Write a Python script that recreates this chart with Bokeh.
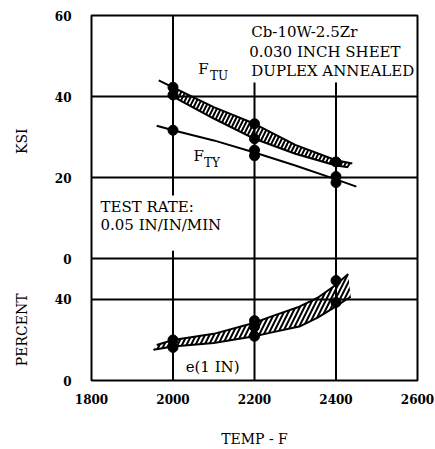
from bokeh.plotting import figure
from bokeh.models import Range1d, Label, FixedTicker, LinearAxis
from bokeh.embed import file_html
from bokeh.resources import INLINE

# ---- data: Cb-10W-2.5Zr, 0.030 inch sheet, duplex annealed ----
temp_ticks = [1800, 2000, 2200, 2400, 2600]
test_temps = [2000, 2200, 2400]

# ultimate tensile strength band (KSI)
ftu_upper_t = [1965, 2000, 2100, 2200, 2300, 2400, 2440]
ftu_upper_v = [44.0, 42.3, 37.4, 33.3, 28.1, 24.3, 23.5]
ftu_lower_t = [2000, 2100, 2200, 2300, 2400, 2430]
ftu_lower_v = [40.0, 34.6, 29.6, 25.9, 23.0, 22.6]
ftu_pts_t = [2000, 2000, 2200, 2200, 2400]
ftu_pts_v = [42.3, 40.4, 33.3, 29.6, 23.9]

# yield strength (KSI)
fty_t = [1960, 2000, 2100, 2200, 2300, 2400, 2450]
fty_v = [32.8, 31.7, 29.2, 26.2, 23.0, 19.6, 17.8]
fty_pts_t = [2000, 2200, 2200, 2400, 2400]
fty_pts_v = [31.7, 26.8, 25.4, 20.3, 18.8]

# elongation in 1 inch (percent)
el_upper_t = [1960, 2000, 2100, 2200, 2240, 2310, 2355, 2400, 2430]
el_upper_v = [17.5, 20.0, 23.0, 28.5, 31.5, 36.4, 40.8, 47.2, 52.5]
el_lower_t = [1952, 2000, 2100, 2200, 2240, 2310, 2355, 2400, 2436]
el_lower_v = [15.2, 16.8, 18.5, 21.8, 23.6, 26.6, 31.0, 36.6, 41.3]
el_pts_t = [2000, 2000, 2200, 2200, 2200, 2400, 2400]
el_pts_v = [20.0, 16.3, 29.5, 26.5, 21.8, 49.3, 38.5]

ksi_ticks = [0, 20, 40, 60]
pct_ticks = [0, 40]

FONT = "DejaVu Serif"
INK = "black"

# The strength panel occupies KSI 0..60; the elongation panel sits below it
# (percent 0..60 over half that height), sharing one frame and one x axis.
KSI_MIN, KSI_MAX = -30, 60
PCT_TOP = 60
pct_span = PCT_TOP * (KSI_MAX - KSI_MIN) / (0 - KSI_MIN)


def pct_to_ksi(v):
    return KSI_MIN + v * (0 - KSI_MIN) / PCT_TOP


p = figure(width=435, height=449, x_range=Range1d(1800, 2600),
           y_range=Range1d(KSI_MIN, KSI_MAX), toolbar_location=None,
           output_backend="svg", min_border_left=91, min_border_right=18,
           min_border_top=15, min_border_bottom=68)
p.extra_y_ranges = {"pct": Range1d(0, pct_span)}
p.background_fill_color = "white"
p.border_fill_color = "white"
p.outline_line_color = INK
p.outline_line_width = 2

# left axis: KSI ticks for the upper panel, percent ticks for the lower one
left_ticks = ksi_ticks + [pct_to_ksi(v) for v in pct_ticks]
p.yaxis.ticker = FixedTicker(ticks=left_ticks)
p.yaxis.major_label_overrides = {pct_to_ksi(v): str(v) for v in pct_ticks}
p.xaxis.ticker = FixedTicker(ticks=temp_ticks)
p.xaxis.axis_label = "TEMP - F"

# outer left axis carrying the two panel titles, one per panel
title_axis = LinearAxis(ticker=FixedTicker(ticks=[29.0, pct_to_ksi(25)]),
                        major_label_overrides={29.0: "KSI",
                                               pct_to_ksi(25): "PERCENT"},
                        major_label_orientation="vertical")
p.add_layout(title_axis, "left")

for ax in p.axis:
    ax.axis_line_color = None
    ax.major_tick_line_color = None
    ax.minor_tick_line_color = None
    ax.major_label_text_font = FONT
    ax.major_label_text_font_size = "12px"
    ax.major_label_text_font_style = "bold"
    ax.major_label_text_color = INK
    ax.axis_label_text_font = FONT
    ax.axis_label_text_font_size = "14px"
    ax.axis_label_text_font_style = "normal"
    ax.axis_label_text_color = INK
p.yaxis[0].major_label_standoff = 14
title_axis.major_label_text_font_size = "14px"
title_axis.major_label_text_font_style = "normal"
title_axis.major_label_standoff = 15
p.xaxis.major_label_standoff = 7
p.xaxis.axis_label_standoff = 24

# horizontal rules (20, 40 KSI; panel divider; 40 percent)
p.ygrid.ticker = FixedTicker(ticks=[20, 40, 0, pct_to_ksi(40)])
p.ygrid.grid_line_color = INK
p.ygrid.grid_line_width = 2
p.xgrid.visible = False
for g in p.ygrid[1:]:
    g.visible = False

# vertical rules, broken where the notes sit
p.segment(x0=[test_temps[0], test_temps[0], test_temps[1], test_temps[2]],
          y0=[60, 2.0, 43.5, 43.5],
          x1=[test_temps[0], test_temps[0], test_temps[1], test_temps[2]],
          y1=[15.6, KSI_MIN, KSI_MIN, KSI_MIN],
          line_color=INK, line_width=2)

# ---- strength curves ----
band_x = ftu_upper_t[1:] + ftu_lower_t[::-1]
band_y = ftu_upper_v[1:] + ftu_lower_v[::-1]
p.patch(band_x, band_y, fill_color=None, line_color=None,
        hatch_pattern="/", hatch_color=INK, hatch_weight=2, hatch_scale=8)
p.line(ftu_upper_t, ftu_upper_v, line_color=INK, line_width=2)
p.line(ftu_lower_t, ftu_lower_v, line_color=INK, line_width=2)
p.line(fty_t, fty_v, line_color=INK, line_width=2)
p.scatter(ftu_pts_t, ftu_pts_v, marker="circle", size=10, color=INK)
p.scatter(fty_pts_t, fty_pts_v, marker="circle", size=10, color=INK)

# ---- elongation curves (percent scale) ----
el_x = el_upper_t + el_lower_t[::-1]
el_y = el_upper_v + el_lower_v[::-1]
p.patch(el_x, el_y, fill_color=None, line_color=None, y_range_name="pct",
        hatch_pattern="/", hatch_color=INK, hatch_weight=2, hatch_scale=9)
p.line(el_upper_t, el_upper_v, line_color=INK, line_width=2, y_range_name="pct")
p.line(el_lower_t, el_lower_v, line_color=INK, line_width=2, y_range_name="pct")
p.scatter(el_pts_t, el_pts_v, marker="circle", size=10, color=INK,
          y_range_name="pct")


def add_text(x, y, txt, size="15px", y_name="default"):
    p.add_layout(Label(x=x, y=y, text=txt, text_font=FONT, text_font_size=size,
                       text_color=INK, text_baseline="middle", text_align="left",
                       y_range_name=y_name))


add_text(2062, 46.9, "F")
add_text(2091, 45.0, "TU", "12px")
add_text(2050, 25.4, "F")
add_text(2076, 23.7, "TY", "12px")
add_text(2192, 55.9, "Cb-10W-2.5Zr")
add_text(2187, 51.0, "0.030 INCH SHEET")
add_text(2192, 46.3, "DUPLEX ANNEALED")
add_text(1822, 12.7, "TEST RATE:")
add_text(1822, 8.3, "0.05 IN/IN/MIN")
add_text(2031, 6.9, "e(1 IN)", y_name="pct")

open("out.html", "w").write(file_html(p, INLINE))
